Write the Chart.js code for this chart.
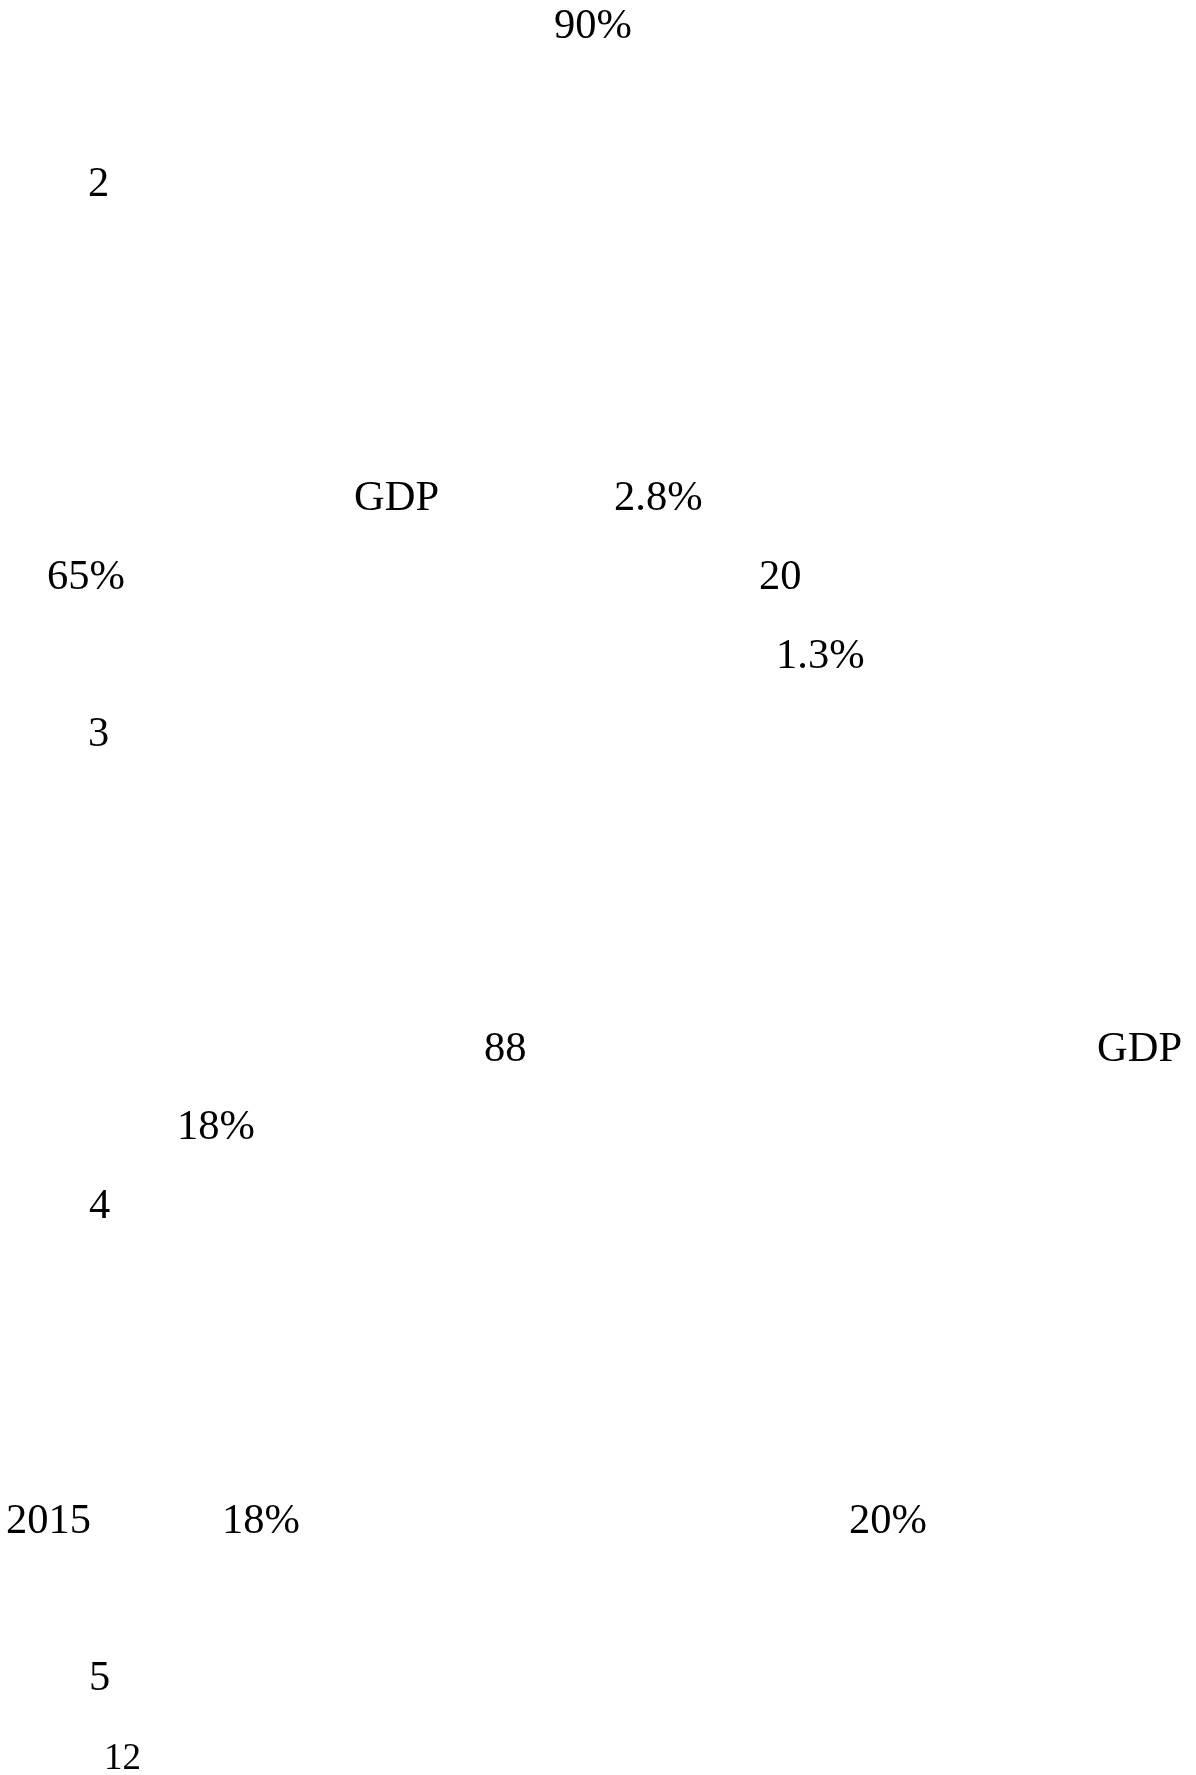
<!DOCTYPE html>
<html>
<head>
<meta charset="utf-8">
<title>page</title>
<script src="https://cdn.jsdelivr.net/npm/chart.js@4/dist/chart.umd.min.js"></script>
<style>
  html, body { margin: 0; padding: 0; background: #fff; }
  #page { display: block; }
</style>
</head>
<body>
<canvas id="page" width="1196" height="1775"></canvas>
<script>
// visible text fragments, the line they sit on and their left edge
const fragments = ["90%", "2", "GDP", "2.8%", "65%", "20", "1.3%", "3",
  "88", "GDP", "18%", "4", "2015", "18%", "20%", "5", "12"];
const lineIndex = [0, 2, 6, 6, 7, 7, 8, 9, 13, 13, 14, 15, 19, 19, 19, 21, 22];
const columnX = [554, 88, 354, 614, 47, 759, 776, 88, 484, 1097, 177, 89, 6, 222, 849, 89, 104];
const footnoteLines = [22];

const points = fragments.map((t, i) => ({ x: columnX[i], y: lineIndex[i] }));

const textLabels = {
  id: "textLabels",
  afterDatasetsDraw(chart) {
    const ctx = chart.ctx;
    const meta = chart.getDatasetMeta(0);
    ctx.save();
    ctx.fillStyle = "#000";
    ctx.textAlign = "left";
    ctx.textBaseline = "alphabetic";
    meta.data.forEach((pt, i) => {
      const small = footnoteLines.includes(lineIndex[i]);
      ctx.font = (small ? "37px" : "42.5px") + " 'Liberation Serif', 'Times New Roman', serif";
      ctx.fillText(fragments[i], pt.x, pt.y);
    });
    ctx.restore();
  }
};

new Chart(document.getElementById("page").getContext("2d"), {
  type: "scatter",
  data: {
    datasets: [{
      data: points,
      pointRadius: 0,
      pointHoverRadius: 0
    }]
  },
  options: {
    responsive: false,
    animation: false,
    events: [],
    layout: { padding: 0 },
    plugins: {
      legend: { display: false },
      tooltip: { enabled: false }
    },
    scales: {
      x: { type: "linear", display: false, min: 0, max: 1196 },
      y: { type: "linear", display: false, reverse: true, min: -0.487, max: 22.081 }
    }
  },
  plugins: [textLabels]
});
</script>
</body>
</html>
